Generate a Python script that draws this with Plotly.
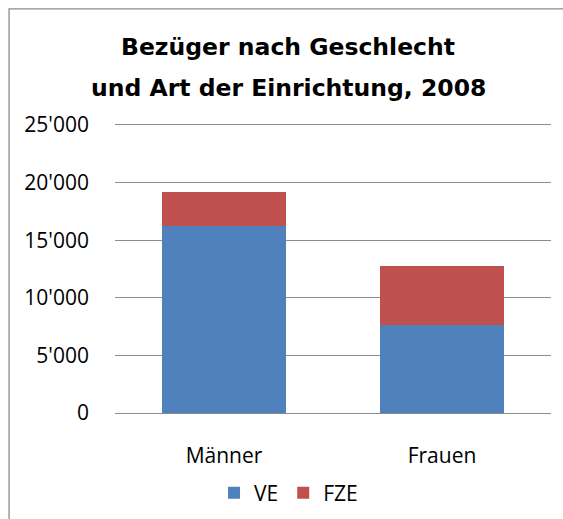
import plotly.graph_objects as go

categories = ["Männer", "Frauen"]
ve_values = [16270, 7650]
fze_values = [2920, 5120]
y_tickvals = [0, 5000, 10000, 15000, 20000, 25000]
y_ticktext = ["0", "5'000", "10'000", "15'000", "20'000", "25'000"]
title_lines = ["Bezüger nach Geschlecht", "und Art der Einrichtung, 2008"]

FONT = "Open Sans"
TITLE_FONT = "DejaVu Sans"

fig = go.Figure()
fig.add_trace(go.Bar(x=categories, y=ve_values, name="VE", marker_color="#4F81BD",
                     marker_line_width=0))
fig.add_trace(go.Bar(x=categories, y=fze_values, name="FZE", marker_color="#C0504D",
                     marker_line_width=0))

fig.update_layout(
    width=563, height=519,
    barmode="stack", bargap=0.43,
    margin=dict(l=115, r=12, t=125, b=106, autoexpand=False),
    paper_bgcolor="white", plot_bgcolor="white",
    font=dict(family=FONT, size=21, color="#000000"),
    showlegend=True,
    legend=dict(orientation="h", x=0.398, xanchor="center", y=-0.278, yanchor="middle",
                font=dict(family=FONT, size=21), itemwidth=30, traceorder="normal"),
    shapes=[dict(type="rect", xref="paper", yref="paper",
                 x0=-0.243, x1=1.3, y0=-0.6, y1=1.403,
                 line=dict(color="#8C8C8C", width=1.3), fillcolor="rgba(0,0,0,0)")],
    annotations=[
        dict(text="<b>%s</b>" % title_lines[0], xref="paper", yref="paper",
             x=0.397, y=1.271, xanchor="center", yanchor="middle", showarrow=False,
             font=dict(family=TITLE_FONT, size=23.5, color="#000000")),
        dict(text="<b>%s</b>" % title_lines[1], xref="paper", yref="paper",
             x=0.397, y=1.128, xanchor="center", yanchor="middle", showarrow=False,
             font=dict(family=TITLE_FONT, size=23.5, color="#000000")),
    ],
)
fig.update_yaxes(range=[0, 25000], tickvals=y_tickvals, ticktext=y_ticktext,
                 showgrid=True, gridcolor="#8C8C8C", gridwidth=1.2,
                 zeroline=False, showline=False, ticks="", ticklabelstandoff=25,
                 automargin=False, tickfont=dict(family=FONT, size=21))
fig.update_xaxes(showline=True, mirror=True, linecolor="#8C8C8C", linewidth=1.2, ticks="",
                 ticklabelstandoff=24, automargin=False, tickfont=dict(family=FONT, size=21))

fig.write_html("out.html", config={"displayModeBar": False},
               post_script="document.body.style.margin='0';")
